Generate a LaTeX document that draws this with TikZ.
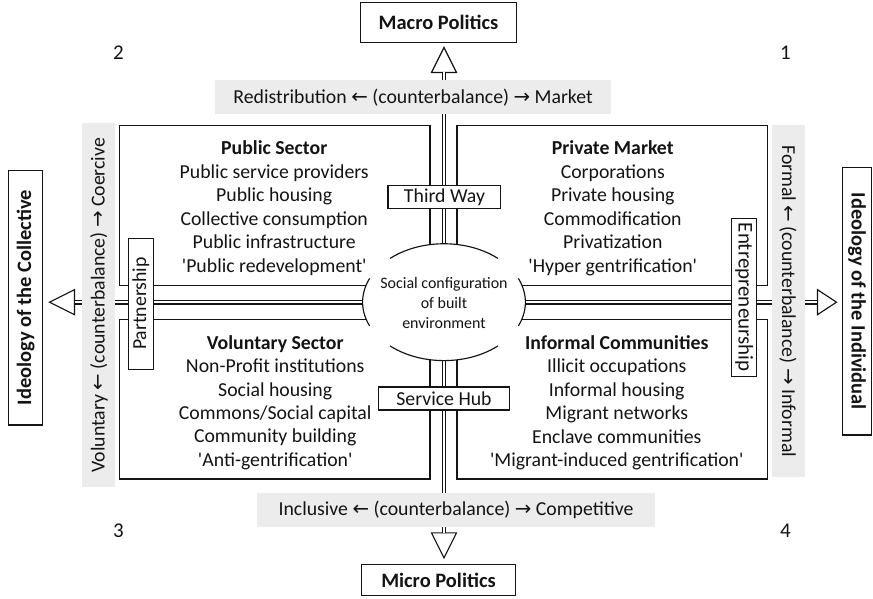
\documentclass[tikz,border=0pt]{standalone}
\usepackage{fontspec}
\setmainfont{Carlito}[Ligatures=TeXOff]
\newfontfamily\arr{DejaVu Sans}
\definecolor{band}{RGB}{236,236,236}
\definecolor{ink}{RGB}{20,20,20}
\newcommand\lar{{\arr ←}}
\newcommand\rar{{\arr →}}
\begin{document}
\begin{tikzpicture}[x=1pt,y=-1pt,line width=1.15pt,
  every path/.style={draw=ink},
  body/.style={font=\fontsize{19.8}{23.5}\selectfont,align=center,inner sep=0pt,text=ink},
  bandbox/.style={fill=band,draw=none,inner sep=0pt,font=\fontsize{19.8}{22}\selectfont,text=ink},
  lblbox/.style={draw=ink,fill=white,inner sep=0pt,font=\fontsize{19.8}{22}\selectfont,text=ink},
  polbox/.style={draw=ink,fill=white,inner sep=0pt,font=\bfseries\fontsize{20.5}{22}\selectfont,text=ink},
  shaft/.style={draw=ink,line width=1.15pt,double=white,double distance=2.4pt},
  headtri/.style={draw=ink,fill=white,line width=1.15pt,line join=miter},
  numlbl/.style={font=\fontsize{21}{22}\selectfont,inner sep=0pt,text=ink}]
\useasboundingbox (0,0) rectangle (873,598);
\fill[white] (0,0) rectangle (873,598);

% ellipse centre and key points
\coordinate (E) at (444,302);
\coordinate (etop) at (444,243.8);
\coordinate (ebot) at (444,360.2);
\coordinate (eleft) at (363,302);
\coordinate (eright) at (525,302);

% arrow heads
\coordinate (tbase) at (444,71.5);
\coordinate (bbase) at (444,533.5);
\coordinate (lbase) at (74.5,302);
\coordinate (rbase) at (817.5,302);
\draw[headtri] (431.5,72) -- (444,47) -- (456.5,72) -- cycle;
\draw[headtri] (431.5,533) -- (444,558) -- (456.5,533) -- cycle;
\draw[headtri] (74,289.5) -- (49,302) -- (74,314.5) -- cycle;
\draw[headtri] (818,289.5) -- (837,302) -- (818,314.5) -- cycle;

% shafts
\draw[shaft] (etop) -- (tbase);
\draw[shaft] (ebot) -- (bbase);
\draw[shaft] (eleft) -- (lbase);
\draw[shaft] (eright) -- (rbase);

% quadrant frames
\draw (366,285) -- (119,285) -- (119,125) -- (430,125) -- (430,244.4);
\draw (457,244.3) -- (457,125) -- (768,125) -- (768,285) -- (522,285);
\draw (366,319) -- (119,319) -- (119,479) -- (430,479) -- (430,359.6);
\draw (522,319) -- (768,319) -- (768,479) -- (457,479) -- (457,359.7);

% ellipse arcs
\draw plot[domain=48.5:131.5,samples=40,smooth] ({444+81.5*cos(\x)},{302-58.5*sin(\x)});
\draw plot[domain=228.5:311.5,samples=40,smooth] ({444+81.5*cos(\x)},{302-58.5*sin(\x)});
\draw plot[domain=156:204,samples=30,smooth] ({444+81.5*cos(\x)},{302-58.5*sin(\x)});
\draw plot[domain=-24:24,samples=30,smooth] ({444+81.5*cos(\x)},{302-58.5*sin(\x)});
\node[font=\fontsize{16}{20}\selectfont,align=center,inner sep=0pt,text=ink] (ctext) at (444,303) {Social configuration\\of built\\environment};

% grey bands
\node[bandbox,minimum width=396pt,minimum height=34pt] (topband) at (413,97) {Redistribution \lar{} (counterbalance) \rar{} Market};
\node[bandbox,minimum width=398pt,minimum height=34pt] (botband) at (456,510) {Inclusive \lar{} (counterbalance) \rar{} Competitive};
\node[bandbox,minimum width=364pt,minimum height=33pt,rotate=90] (leftband) at (98.5,305) {Voluntary \lar{} (counterbalance) \rar{} Coercive};
\node[bandbox,minimum width=352pt,minimum height=33pt,rotate=-90] (rightband) at (788.5,301) {Formal \lar{} (counterbalance) \rar{} Informal};

% label boxes
\node[lblbox,minimum width=113pt,minimum height=23pt] (thirdway) at (444.5,196.5) {Third Way};
\node[lblbox,minimum width=132pt,minimum height=23pt] (servicehub) at (444,398.5) {Service Hub};
\node[lblbox,minimum width=131pt,minimum height=25pt,rotate=90] (partner) at (140.5,303.5) {Partnership};
\node[lblbox,minimum width=158pt,minimum height=25pt,rotate=-90,font=\fontsize{21}{22}\selectfont] (entre) at (744.5,297) {Entrepreneurship};

% politics / ideology boxes
\node[polbox,minimum width=157pt,minimum height=40pt] (macro) at (438.5,22) {Macro Politics};
\node[polbox,minimum width=155pt,minimum height=31pt] (micro) at (438.5,580.5) {Micro Politics};
\node[polbox,minimum width=255pt,minimum height=34pt,rotate=90] (collective) at (25,297.5) {Ideology of the Collective};
\node[polbox,minimum width=268pt,minimum height=29pt,rotate=-90] (individual) at (857.5,301) {Ideology of the Individual};

% quadrant texts
\node[body] (q2) at (274,208) {\textbf{Public Sector}\\Public service providers\\Public housing\\Collective consumption\\Public infrastructure\\'Public redevelopment'};
\node[body] (q1) at (613,208) {\textbf{Private Market}\\Corporations\\Private housing\\Commodification\\Privatization\\'Hyper gentrification'};
\node[body] (q3) at (275,402.5) {\textbf{Voluntary Sector}\\Non-Profit institutions\\Social housing\\Commons/Social capital\\Community building\\'Anti-gentrification'};
\node[body] (q4) at (617,402.5) {\textbf{Informal Communities}\\Illicit occupations\\Informal housing\\Migrant networks\\Enclave communities\\'Migrant-induced gentrification'};

% quadrant numbers
\node[numlbl] (n2) at (118,52) {2};
\node[numlbl] (n1) at (786,52) {1};
\node[numlbl] (n3) at (118,531) {3};
\node[numlbl] (n4) at (786,531) {4};
\end{tikzpicture}
\end{document}
